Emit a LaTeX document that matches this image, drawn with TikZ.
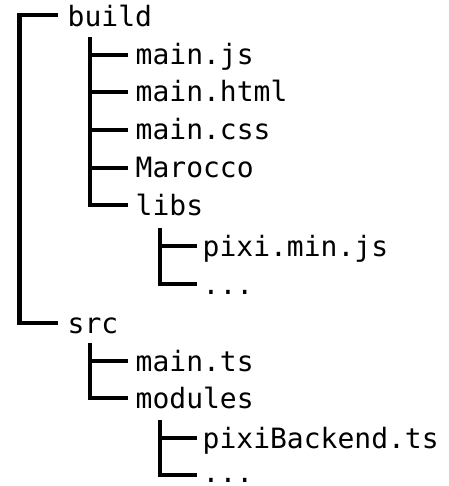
\documentclass[tikz,border=0pt]{standalone}
\usepackage{fontspec}
\setmonofont{DejaVu Sans Mono}
\tikzset{
  entry/.style={anchor=base west, inner sep=0pt, font=\ttfamily\fontsize{28}{28}\selectfont},
  branch/.style={line width=4.5pt}
}
\begin{document}
\begin{tikzpicture}[x=1pt, y=-1pt]
  \useasboundingbox (0,0) rectangle (448,486);

  \node[entry] (build) at (67.5,27) {build};
  \node[entry] (mainjs) at (135.5,65) {main.js};
  \node[entry] (mainhtml) at (135.5,102) {main.html};
  \node[entry] (maincss) at (135.5,140) {main.css};
  \node[entry] (marocco) at (135.5,178) {Marocco};
  \node[entry] (libs) at (135.5,215) {libs};
  \node[entry] (pixi) at (202.5,256) {pixi.min.js};
  \node[entry] (libdots) at (202.5,294) {...};
  \node[entry] (src) at (67.5,333) {src};
  \node[entry] (maints) at (135.5,371) {main.ts};
  \node[entry] (modules) at (135.5,408) {modules};
  \node[entry] (backend) at (202.5,448) {pixiBackend.ts};
  \node[entry] (moddots) at (202.5,482) {...};

  % top level
  \draw[branch]([xshift=-10pt,yshift=12pt]build.base west)--++(-38,0)
    |-([xshift=-10pt,yshift=10pt]src.base west);
  % build
  \draw[branch]([xshift=22.5pt,yshift=-10pt]build.base west)
    |-([xshift=-7.5pt,yshift=10pt]libs.base west);
  \foreach \n in {mainjs,mainhtml,maincss,marocco}
    \draw[branch]([xshift=-7.5pt,yshift=10pt]\n.base west)--++(-38,0);
  \draw[branch]([xshift=24.5pt,yshift=-13pt]libs.base west)
    |-([xshift=-5.5pt,yshift=10pt]libdots.base west);
  \draw[branch]([xshift=-5.5pt,yshift=10pt]pixi.base west)--++(-37,0);
  % src
  \draw[branch]([xshift=22.5pt,yshift=-10pt]src.base west)
    |-([xshift=-7.5pt,yshift=10pt]modules.base west);
  \draw[branch]([xshift=-7.5pt,yshift=10pt]maints.base west)--++(-38,0);
  \draw[branch]([xshift=24.5pt,yshift=-12pt]modules.base west)
    |-([xshift=-5.5pt,yshift=7pt]moddots.base west);
  \draw[branch]([xshift=-5.5pt,yshift=10pt]backend.base west)--++(-37,0);
\end{tikzpicture}
\end{document}
